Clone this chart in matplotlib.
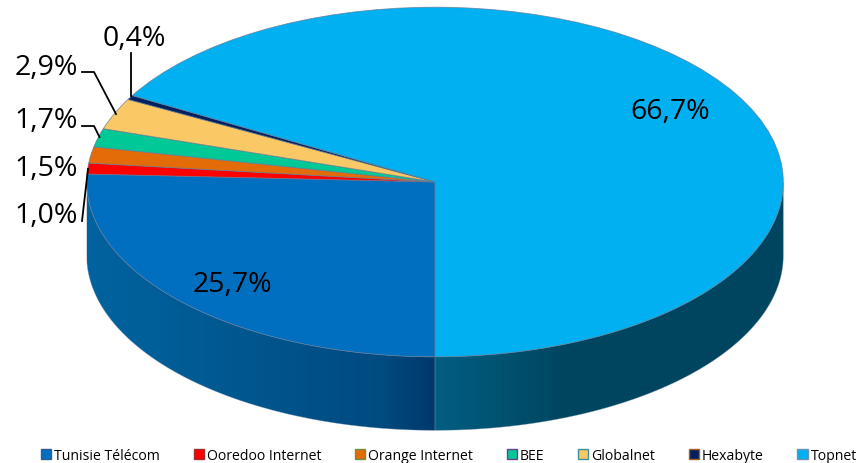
import numpy as np
import matplotlib
matplotlib.use("Agg")
import matplotlib.pyplot as plt
from matplotlib.patches import Patch, Polygon
from matplotlib.transforms import Affine2D
from matplotlib.colors import to_rgb

categories = ["Tunisie Télécom", "Ooredoo Internet", "Orange Internet", "BEE",
              "Globalnet", "Hexabyte", "Topnet"]
values = [25.7, 1.0, 1.5, 1.7, 2.9, 0.4, 66.7]
value_labels = ["25,7%", "1,0%", "1,5%", "1,7%", "2,9%", "0,4%", "66,7%"]
colors = ["#006FC0", "#FF0000", "#E36C09", "#00C896", "#FAC864", "#002060", "#00B0F0"]
legend_edges = ["#2F5F90", "#A03030", "#6F8F3F", "#6F3F8F", "#3F8FA0", "#A86020", "#6F90B8"]

W, H = 856, 464
CX, CY, RX, RY, DEPTH = 435.0, 183.0, 348.3, 174.8, 73.5

fig = plt.figure(figsize=(W / 100, H / 100), dpi=100, facecolor="white")
ax = fig.add_axes([0, 0, 1, 1])

ax.pie(values, colors=colors, startangle=270, counterclock=False, radius=1,
       wedgeprops=dict(edgecolor=(0.38, 0.47, 0.58, 0.75), linewidth=0.6, zorder=5))
ax.set_aspect("auto")
d = DEPTH / RY


def wall(t0, t1, stops):
    ts = np.linspace(t0, t1, 200)
    xs, ys = np.sin(ts), -np.cos(ts)
    verts = np.column_stack([np.r_[xs, xs[::-1]], np.r_[ys, ys[::-1] - d]])
    x0, x1 = xs.min(), xs.max()
    grid = np.linspace(x0, x1, 400)
    cols = np.array([to_rgb(s[1]) for s in stops])
    sx = [s[0] for s in stops]
    img = np.stack([np.interp(grid, sx, cols[:, k]) for k in range(3)], axis=-1)[None, :, :]
    im = ax.imshow(img, extent=(x0, x1, -1 - d - 0.02, 0.02), aspect="auto", zorder=2,
                   interpolation="bilinear", origin="lower")
    poly = Polygon(verts, closed=True, facecolor="none", edgecolor=(0.45, 0.55, 0.65, 0.5),
                   linewidth=0.5, zorder=3)
    ax.add_patch(poly)
    im.set_clip_path(poly)


wall(-np.pi / 2, 0, [(-1, "#00639F"), (-0.55, "#00578F"), (-0.15, "#004A80"), (0, "#00386A")])
wall(0, np.pi / 2, [(0, "#005F82"), (0.2, "#00516F"), (0.37, "#004560"), (1, "#00465F")])

ax.set_xlim(-CX / RX, (W - CX) / RX)
ax.set_ylim((CY - H) / RY, CY / RY)

# pixel-based overlay for labels and leader lines
px = Affine2D().scale(1, -1).translate(0, H)
FONT = "Open Sans"
label_pos = [(232.5, 292.5), (46.5, 223), (46.5, 176), (46.5, 128), (46.5, 75), (134, 46), (670.5, 119)]
for txt, (x, y) in zip(value_labels, label_pos):
    ax.text(x, y, txt, transform=px, ha="center", va="baseline",
            fontsize=20.5, family=FONT, color="black", zorder=8)

leaders = [[(82, 222), (88, 170)],
           [(82, 127), (94, 127), (99.5, 138)],
           [(82, 73), (94, 73), (116, 115)],
           [(131, 54), (131, 97)]]
for seg in leaders:
    xs, ys = zip(*seg)
    ax.plot(xs, ys, transform=px, color="black", lw=1.3, zorder=9, clip_on=False)

handles = [Patch(facecolor=c, edgecolor=e, linewidth=1.0)
           for c, e in zip(colors, legend_edges)]
fig.legend(handles, categories, loc="center left", bbox_to_anchor=(41 / W, 1 - 456.5 / H), ncol=7,
           frameon=False, handlelength=0.72, handleheight=0.72, handletextpad=0.2,
           columnspacing=2.42, prop=dict(family=FONT, size=10.1), borderpad=0, borderaxespad=0)

ax.axis("off")
fig.savefig("out.png", dpi=100, facecolor="white")
